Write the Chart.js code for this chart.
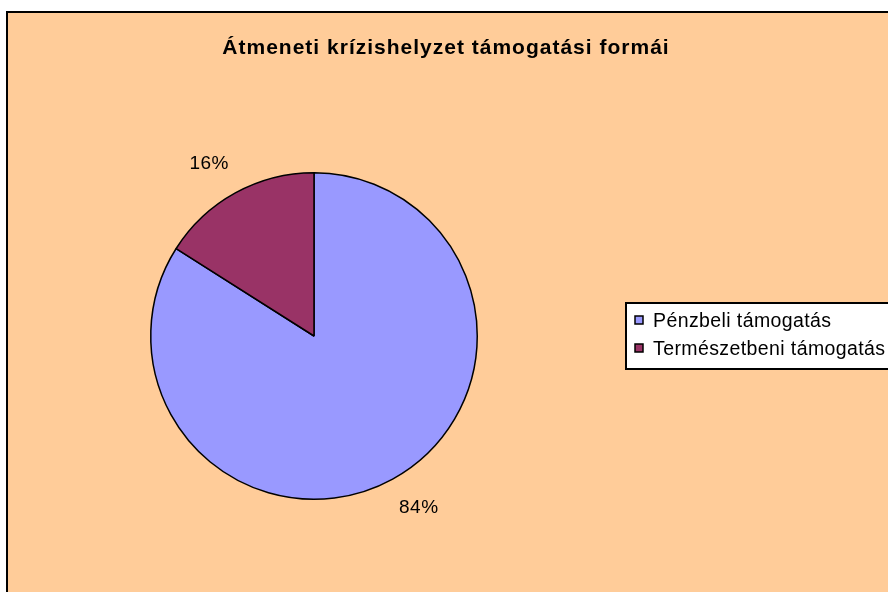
<!DOCTYPE html>
<html lang="hu">
<head>
<meta charset="UTF-8">
<title>Átmeneti krízishelyzet támogatási formái</title>
<script src="https://cdn.jsdelivr.net/npm/chart.js"></script>
<style>
  body { margin: 0; background: #fff; overflow: hidden; }
  #keret {
    position: absolute; left: 6px; top: 11px; width: 920px; height: 620px;
    background: #FFCC99; border: 2px solid #000;
  }
  #wrap { position: absolute; left: 0; top: 0; width: 888px; height: 592px; }
</style>
</head>
<body>
<div id="keret"></div>
<div id="wrap"><canvas id="kor" width="888" height="592"></canvas></div>
<script>
  const cim = "Átmeneti krízishelyzet támogatási formái";
  const kategoriak = ["Pénzbeli támogatás", "Természetbeni támogatás"];
  const ertekek = [84, 16];
  const szinek = ["#9999FF", "#993366"];

  const betu = '"Liberation Sans", Arial, sans-serif';

  // cím, jelmagyarázat és százalékos feliratok
  const rajzolo = {
    id: 'rajzolo',
    afterDraw(chart) {
      const ctx = chart.ctx;
      ctx.save();
      ctx.fillStyle = '#000';

      // cím
      ctx.font = 'bold 21px ' + betu;
      ctx.letterSpacing = '1px';
      ctx.textAlign = 'center';
      ctx.textBaseline = 'alphabetic';
      ctx.fillText(cim, 446, 54);

      // feliratok a szeletek mellett
      const meta = chart.getDatasetMeta(0);
      const osszeg = ertekek.reduce((a, b) => a + b, 0);
      ctx.font = '19px ' + betu;
      ctx.letterSpacing = '0.5px';
      ctx.textBaseline = 'middle';
      meta.data.forEach((iv, i) => {
        const p = iv.getProps(['x', 'y', 'startAngle', 'endAngle', 'outerRadius'], true);
        const szog = (p.startAngle + p.endAngle) / 2 - 0.045;
        const r = p.outerRadius + 38;
        const szazalek = Math.round(ertekek[i] / osszeg * 100) + '%';
        ctx.fillText(szazalek, p.x + Math.cos(szog) * r, p.y + Math.sin(szog) * r);
      });

      // jelmagyarázat doboz
      ctx.fillStyle = '#fff';
      ctx.fillRect(626, 303, 300, 66);
      ctx.strokeStyle = '#000';
      ctx.lineWidth = 2;
      ctx.strokeRect(626, 303, 300, 66);
      ctx.font = '19.5px ' + betu;
      ctx.letterSpacing = '0.4px';
      ctx.textAlign = 'left';
      ctx.textBaseline = 'alphabetic';
      kategoriak.forEach((nev, i) => {
        const y = 327 + i * 28;
        ctx.fillStyle = szinek[i];
        ctx.fillRect(635, y - 11, 8, 8);
        ctx.lineWidth = 1.5;
        ctx.strokeRect(635, y - 11, 8, 8);
        ctx.fillStyle = '#000';
        ctx.fillText(nev, 653, y);
      });
      ctx.restore();
    }
  };

  new Chart(document.getElementById('kor'), {
    type: 'pie',
    data: {
      labels: kategoriak,
      datasets: [{
        data: ertekek,
        backgroundColor: szinek,
        borderColor: '#000',
        borderWidth: 1.5
      }]
    },
    options: {
      responsive: false,
      animation: false,
      events: [],
      layout: { padding: { left: 150, right: 410, top: 172, bottom: 92 } },
      plugins: {
        legend: { display: false },
        title: { display: false },
        tooltip: { enabled: false }
      }
    },
    plugins: [rajzolo]
  });
</script>
</body>
</html>
